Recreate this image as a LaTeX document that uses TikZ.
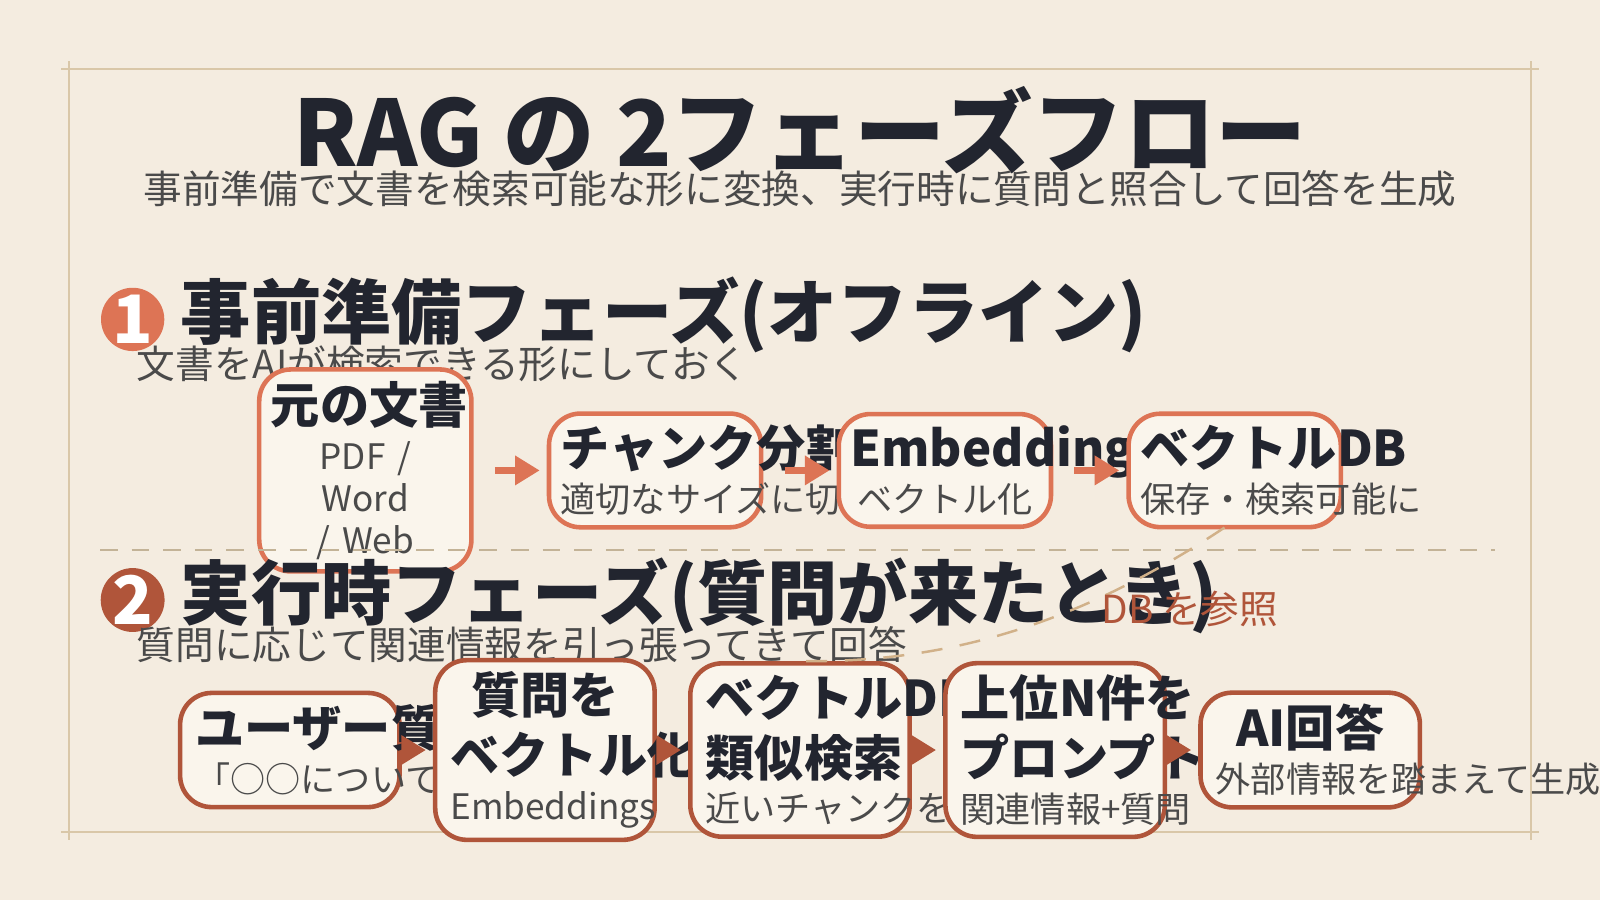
\documentclass[tikz,border=0pt]{standalone}
\usepackage{fontspec}
\setmainfont{Noto Sans CJK JP}
\usetikzlibrary{positioning,arrows.meta}
\definecolor{bgc}{HTML}{F4ECE0}
\definecolor{boxc}{HTML}{FAF5EC}
\definecolor{orng}{HTML}{DD7455}
\definecolor{brwn}{HTML}{B0553A}
\definecolor{ink}{HTML}{22252F}
\definecolor{gry}{HTML}{4A4A4A}
\definecolor{frm}{HTML}{D9C7A8}
\newlength{\pxu}\setlength{\pxu}{0.010204cm}
\tikzset{
  step/.style={draw=#1,line width=1.3pt,fill=boxc,rounded corners=9pt,align=center,text=ink,text width=185\pxu},
  sub/.style={font=\fontsize{10}{12}\selectfont,text=gry},
  flow/.style={draw=#1,line width=2pt,-{Triangle[length=7pt,width=8pt]}},
  badge/.style={circle,fill=#1,text=white,minimum size=44\pxu,inner sep=0pt,font=\bfseries\fontsize{19}{19}\selectfont}
}
\newcommand{\ttl}[2]{\bfseries\fontsize{14}{17}\selectfont #1\par\vspace{1pt}\mdseries\fontsize{10}{12}\selectfont\color{gry}#2}
\begin{document}
\begin{tikzpicture}[x=0.010204cm,y=-0.010204cm]
\fill[bgc] (0,0) rectangle (1568,882);
\useasboundingbox (0,0) rectangle (1568,882);
% frame
\draw[frm,line width=0.6pt] (60,68) -- (1508,68) (60,815) -- (1508,815) (68,60) -- (68,823) (1500,60) -- (1500,823);
% title
\node (title) at (784,128) {\bfseries\fontsize{26}{30}\selectfont\color{ink}RAG の 2フェーズフロー};
\node (subtitle) at (784,185) {\fontsize{11}{13}\selectfont\color{gry}事前準備で文書を検索可能な形に変換、実行時に質問と照合して回答を生成};
% phase 1
\node[badge=orng] (b1) at (130,313) {1};
\node[anchor=west,text=ink,font=\bfseries\fontsize{20}{24}\selectfont] (h1) at (165,309) {事前準備フェーズ(オフライン)};
\node[anchor=west,sub,font=\fontsize{11}{13}\selectfont] (s1) at (122,357) {文書をAIが検索できる形にしておく};
\foreach \i/\x/\a/\b in {1/358/{元の文書}/{PDF / Word / Web},2/642/{チャンク分割}/{適切なサイズに切る},3/926/{Embeddings}/{ベクトル化},4/1210/{ベクトルDB}/{保存・検索可能に}}
  \node[step=orng,minimum width=196\pxu,minimum height=98\pxu] (p\i) at (\x,461) {\ttl{\a}{\b}};
\foreach \i/\j in {1/2,2/3,3/4}
  \draw[flow=orng] ([xshift=6pt]p\i.east) -- ([xshift=-2pt]p\j.west);
% separator
\draw[frm!90!black,line width=0.7pt,dash pattern=on 5pt off 4pt] (98,539) -- (1465,539);
% phase 2
\node[badge=brwn] (b2) at (130,588) {2};
\node[anchor=west,text=ink,font=\bfseries\fontsize{20}{24}\selectfont] (h2) at (165,584) {実行時フェーズ(質問が来たとき)};
\node[anchor=west,sub,font=\fontsize{11}{13}\selectfont] (s2) at (122,632) {質問に応じて関連情報を引っ張ってきて回答};
\foreach \i/\x/\a/\b in {1/284/{ユーザー質問}/{「○○について教えて」},2/534/{質問を\\ベクトル化}/{Embeddings},3/784/{ベクトルDBで\\類似検索}/{近いチャンクを取得},4/1034/{上位N件を\\プロンプトに合体}/{関連情報+質問},5/1284/{AI回答}/{外部情報を踏まえて生成}}
  \node[step=brwn,minimum width=215\pxu,minimum height=98\pxu] (q\i) at (\x,735) {\ttl{\a}{\b}};
\foreach \i/\j in {1/2,2/3,3/4,4/5}
  \draw[flow=brwn] ([xshift=3pt]q\i.east) -- ([xshift=-2pt]q\j.west);
% reference
\coordinate (ref) at (1200,517);
\draw[frm!70!brown,line width=0.7pt,dash pattern=on 6pt off 5pt] (ref) .. controls (1060,610) and (930,650) .. (q3.north);
\node[text=brwn,font=\fontsize{11}{13}\selectfont] (reflbl) at (1166,597) {DB を参照};
\end{tikzpicture}
\end{document}
